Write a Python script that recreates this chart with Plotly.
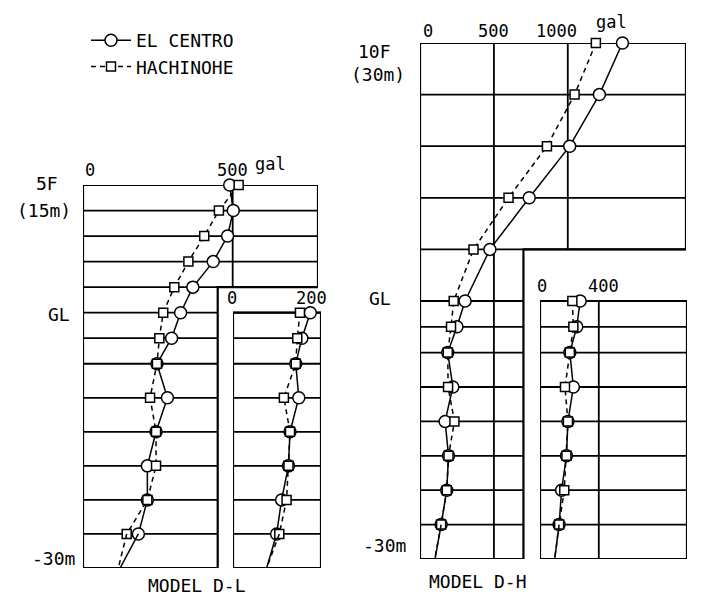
import plotly.graph_objects as go

W, H = 705, 604

# ---------------- data (gal vs. depth in m) ----------------
DL_DEPTH = [15, 12, 9, 6, 3, 0, -3, -6, -10, -14, -18, -22, -26, -30]
DL_ELCENTRO = [490, 502, 483, 435, 367, 326, 296, 247, 282, 244, 215, 215, 185, 124]
DL_HACHINOHE = [520, 454, 405, 352, 305, 268, 255, 247, 224, 244, 244, 215, 146, 118]

DL_SOIL_DEPTH = [0, -3, -6, -10, -14, -18, -22, -26, -30]
DL_ELCENTRO_SUB = [202, 180, 164, 172, 149, 145, 127, 114, 88]
DL_HACHINOHE_SUB = [175, 168, 164, 133, 149, 145, 140, 121, 88]

DH_DEPTH = [30, 24, 18, 12, 6, 0, -3, -6, -10, -14, -18, -22, -26, -30]
DH_ELCENTRO = [1370, 1214, 1013, 739, 473, 305, 250, 188, 222, 170, 193, 181, 143, 102]
DH_HACHINOHE = [1190, 1046, 859, 599, 362, 228, 210, 188, 190, 233, 193, 181, 143, 100]

DH_SOIL_DEPTH = [0, -3, -6, -10, -14, -18, -22, -26, -30]
DH_ELCENTRO_SUB = [273, 250, 203, 227, 190, 180, 147, 130, 100]
DH_HACHINOHE_SUB = [220, 227, 203, 170, 190, 180, 165, 130, 100]

DL_FLOOR_LINES = [12, 9, 6, 3]
DH_FLOOR_LINES = [24, 18, 12, 6]
SOIL_LINES = [0, -3, -6, -10, -14, -18, -22, -26]

DL_TICKS = ["0", "500"]
DL_SUB_TICKS = ["0", "200"]
DH_TICKS = ["0", "500", "1000"]
DH_SUB_TICKS = ["0", "400"]

# panel extents (gal)
DL_MAX, DL_SOIL_MAX, DL_SUB_MAX = 785, 450, 230
DH_MAX, DH_SOIL_MAX, DH_SUB_MAX = 1800, 700, 1000

FONT = "DejaVu Sans Mono"
BLACK = "black"


def px_x(a, b):
    return [a / W, b / W]


def px_y(top, bottom):
    return [1 - bottom / H, 1 - top / H]


fig = go.Figure()


def add_series(x, y, xa, ya, name, dash, symbol, size, legend):
    line = dict(color=BLACK, width=1.5, dash=dash)
    fig.add_trace(go.Scatter(
        x=x[:-1], y=y[:-1], xaxis=xa, yaxis=ya, mode="lines+markers",
        name=name, legendgroup=name, showlegend=legend, cliponaxis=False,
        line=line,
        marker=dict(symbol=symbol, size=size, color="white",
                    line=dict(color=BLACK, width=1.5)),
    ))
    fig.add_trace(go.Scatter(
        x=x[-2:], y=y[-2:], xaxis=xa, yaxis=ya, mode="lines",
        legendgroup=name, showlegend=False, cliponaxis=False, line=line,
        hoverinfo="skip",
    ))


DASH = "5px,4px"
add_series(DL_ELCENTRO, DL_DEPTH, "x", "y", "EL CENTRO", "solid", "circle", 12, True)
add_series(DL_HACHINOHE, DL_DEPTH, "x", "y", "HACHINOHE", DASH, "square", 9, True)
add_series(DL_ELCENTRO_SUB, DL_SOIL_DEPTH, "x2", "y", "EL CENTRO", "solid", "circle", 12, False)
add_series(DL_HACHINOHE_SUB, DL_SOIL_DEPTH, "x2", "y", "HACHINOHE", DASH, "square", 9, False)
add_series(DH_ELCENTRO, DH_DEPTH, "x3", "y2", "EL CENTRO", "solid", "circle", 12, False)
add_series(DH_HACHINOHE, DH_DEPTH, "x3", "y2", "HACHINOHE", DASH, "square", 9, False)
add_series(DH_ELCENTRO_SUB, DH_SOIL_DEPTH, "x4", "y2", "EL CENTRO", "solid", "circle", 12, False)
add_series(DH_HACHINOHE_SUB, DH_SOIL_DEPTH, "x4", "y2", "HACHINOHE", DASH, "square", 9, False)

shapes = []
LW = 1.8


def seg(xref, yref, x0, y0, x1, y1, w=LW):
    shapes.append(dict(type="line", xref=xref, yref=yref, x0=x0, y0=y0, x1=x1, y1=y1,
                       line=dict(color=BLACK, width=w), layer="below"))


def outline(xref, yref, top, step, bottom, full, soil):
    shapes.append(dict(
        type="path", xref=xref, yref=yref, layer="below",
        path=f"M 0,{top} L {full},{top} L {full},{step} L {soil},{step} "
             f"L {soil},{bottom} L 0,{bottom} Z",
        line=dict(color=BLACK, width=2.2)))


# MODEL D-L
outline("x", "y", DL_DEPTH[0], DL_FLOOR_LINES[-1], DL_DEPTH[-1], DL_MAX, DL_SOIL_MAX)
for f in DL_FLOOR_LINES:
    seg("x", "y", 0, f, DL_MAX, f)
for s in SOIL_LINES:
    seg("x", "y", 0, s, DL_SOIL_MAX, s)
seg("x", "y", 500, DL_FLOOR_LINES[-1], 500, DL_DEPTH[0])
shapes.append(dict(type="rect", xref="x2", yref="y", x0=0, x1=DL_SUB_MAX, y0=-30, y1=0,
                   line=dict(color=BLACK, width=2.2), layer="below"))
for s in SOIL_LINES:
    seg("x2", "y", 0, s, DL_SUB_MAX, s)

# MODEL D-H
outline("x3", "y2", DH_DEPTH[0], DH_FLOOR_LINES[-1], DH_DEPTH[-1], DH_MAX, DH_SOIL_MAX)
for f in DH_FLOOR_LINES:
    seg("x3", "y2", 0, f, DH_MAX, f)
for s in SOIL_LINES:
    seg("x3", "y2", 0, s, DH_SOIL_MAX, s)
seg("x3", "y2", 500, DH_DEPTH[-1], 500, DH_DEPTH[0])
seg("x3", "y2", 1000, DH_FLOOR_LINES[-1], 1000, DH_DEPTH[0])
shapes.append(dict(type="rect", xref="x4", yref="y2", x0=0, x1=DH_SUB_MAX, y0=-30, y1=0,
                   line=dict(color=BLACK, width=2.2), layer="below"))
for s in SOIL_LINES:
    seg("x4", "y2", 0, s, DH_SUB_MAX, s)
seg("x4", "y2", 400, -30, 400, 0)

ann = []


def lab(text, xref, yref, x, y, xanchor="center", yanchor="middle", xs=0, ys=0, size=17):
    ann.append(dict(text=text, xref=xref, yref=yref, x=x, y=y, xanchor=xanchor,
                    yanchor=yanchor, xshift=xs, yshift=ys, showarrow=False,
                    font=dict(family=FONT, size=size, color=BLACK)))


# D-L labels
lab(DL_TICKS[0], "x", "y", 0, 15, yanchor="bottom", xs=7, ys=3)
lab(DL_TICKS[1], "x", "y", 500, 15, yanchor="bottom", ys=3)
lab("gal", "x", "y", 500, 15, xanchor="left", yanchor="bottom", xs=20, ys=9, size=17)
lab("5F", "x", "y", 0, 15, xanchor="right", xs=-23, ys=1, size=18)
lab("(15m)", "x", "y", 0, 15, xanchor="right", xs=-10, ys=-26, size=18)
lab("GL", "x", "y", 0, 0, xanchor="right", xs=-11, ys=-2, size=18)
lab("-30m", "x", "y", 0, -30, xanchor="right", xs=-6, ys=10, size=18)
lab(DL_SUB_TICKS[0], "x2", "y", 0, 0, yanchor="bottom", xs=-1, ys=3)
lab(DL_SUB_TICKS[1], "x2", "y", 200, 0, yanchor="bottom", xs=2, ys=3)
lab("MODEL D-L", "paper", "paper", 197 / W, 1 - 585 / H, size=18)

# D-H labels
lab(DH_TICKS[0], "x3", "y2", 0, 30, yanchor="bottom", xs=8, ys=0)
lab(DH_TICKS[1], "x3", "y2", 500, 30, yanchor="bottom", ys=0)
lab(DH_TICKS[2], "x3", "y2", 1000, 30, yanchor="bottom", xs=-11, ys=0)
lab("gal", "x3", "y2", 1000, 30, xanchor="left", yanchor="bottom", xs=26, ys=9, size=17)
lab("10F", "x3", "y2", 0, 30, xanchor="right", xs=-27, ys=-9, size=18)
lab("(30m)", "x3", "y2", 0, 30, xanchor="right", xs=-13, ys=-32, size=18)
lab("GL", "x3", "y2", 0, 0, xanchor="right", xs=-27, ys=3, size=18)
lab("-30m", "x3", "y2", 0, -30, xanchor="right", xs=-12, ys=14, size=18)
lab(DH_SUB_TICKS[0], "x4", "y2", 0, 0, yanchor="bottom", xs=2, ys=3)
lab(DH_SUB_TICKS[1], "x4", "y2", 400, 0, yanchor="bottom", xs=5, ys=3)
lab("MODEL D-H", "paper", "paper", 478 / W, 1 - 581 / H, size=18)

hidden = dict(visible=False, showgrid=False, zeroline=False, fixedrange=True)
fig.update_layout(
    width=W, height=H, autosize=False,
    margin=dict(l=0, r=0, t=0, b=0, pad=0),
    paper_bgcolor="white", plot_bgcolor="rgba(0,0,0,0)",
    xaxis=dict(domain=px_x(83, 318), range=[0, DL_MAX], anchor="y", **hidden),
    xaxis2=dict(domain=px_x(233, 321), range=[0, DL_SUB_MAX], anchor="y", **hidden),
    xaxis3=dict(domain=px_x(420, 686), range=[0, DH_MAX], anchor="y2", **hidden),
    xaxis4=dict(domain=px_x(540, 687), range=[0, DH_SUB_MAX], anchor="y2", **hidden),
    yaxis=dict(domain=px_y(185, 568), range=[-30, 15], anchor="x", **hidden),
    yaxis2=dict(domain=px_y(43, 559), range=[-30, 30], anchor="x3", **hidden),
    shapes=shapes,
    annotations=ann,
    showlegend=True,
    legend=dict(x=86 / W, y=1 - 22 / H, xanchor="left", yanchor="top",
                bgcolor="rgba(0,0,0,0)", borderwidth=0, itemwidth=40,
                font=dict(family=FONT, size=18, color=BLACK), tracegroupgap=0),
)

fig.write_html("out.html", config={"displayModeBar": False},
               post_script="document.body.style.margin='0';document.body.style.overflow='hidden';")
